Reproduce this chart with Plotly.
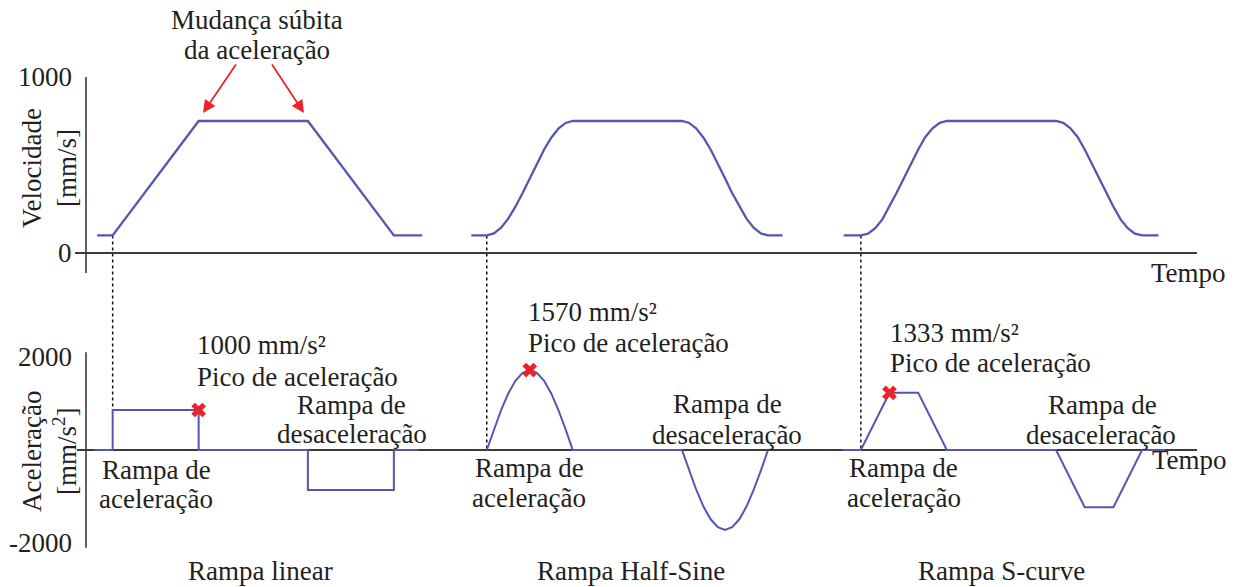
import plotly.graph_objects as go

W, H = 1236, 587

# ---------------- data (time in s, ramp duration = 1 s) ----------------
# Rampa linear
lin_v_t = [0.13, 0.31, 1.31, 2.58, 3.58, 3.91]
lin_v = [100, 100, 750, 750, 100, 100]
lin_a_t = [0.10, 0.31, 0.31, 1.31, 1.31, 2.58, 2.58, 3.58, 3.58, 3.86]
lin_a = [0, 0, 860, 860, 0, 0, -860, -860, 0, 0]

# Rampa Half-Sine
hs_v_t = [4.48,
          4.66, 4.743, 4.827, 4.91, 4.993, 5.077, 5.16, 5.243, 5.327, 5.41, 5.493, 5.577, 5.66,
          6.93, 7.013, 7.097, 7.18, 7.263, 7.347, 7.43, 7.513, 7.597, 7.68, 7.763, 7.847, 7.93,
          8.10]
hs_v = [100,
        100, 111, 144, 195, 263, 341, 425, 509, 588, 655, 707, 739, 750,
        750, 739, 707, 655, 588, 509, 425, 341, 263, 195, 144, 111, 100,
        100]
hs_a_t = [4.66, 4.743, 4.827, 4.91, 4.993, 5.077, 5.16, 5.243, 5.327, 5.41, 5.493, 5.577, 5.66,
          6.93, 7.013, 7.097, 7.18, 7.263, 7.347, 7.43, 7.513, 7.597, 7.68, 7.763, 7.847, 7.93]
hs_a = [0, 445, 860, 1216, 1490, 1661, 1720, 1661, 1490, 1216, 860, 445, 0,
        0, -445, -860, -1216, -1490, -1661, -1720, -1661, -1490, -1216, -860, -445, 0]

# Rampa S-curve
sc_v_t = [8.81,
          9.01, 9.093, 9.177, 9.26, 9.343, 9.427, 9.51, 9.593, 9.677, 9.76, 9.843, 9.927, 10.01,
          11.28, 11.363, 11.447, 11.53, 11.613, 11.697, 11.78, 11.863, 11.947, 12.03, 12.113, 12.197, 12.28,
          12.47]
sc_v = [100,
        100, 110, 141, 191, 263, 344, 425, 506, 588, 659, 709, 740, 750,
        750, 740, 709, 659, 588, 506, 425, 344, 263, 191, 141, 110, 100,
        100]
sc_a_t = [8.79, 9.01, 9.343, 9.677, 10.01, 11.28, 11.613, 11.947, 12.28, 12.55]
sc_a = [0, 0, 1230, 1230, 0, 0, -1230, -1230, 0, 0]

# peak-acceleration markers
peak_t = [1.31, 5.16, 9.343]
peak_a = [860, 1720, 1230]

# dotted guides: ramp start, velocity baseline, acceleration end
guide_t = [0.31, 4.66, 9.01]
guide_v = [100, 100, 100]
guide_a = [860, 0, 0]

vel_ticks = [0, 1000]
acc_ticks = [2000, -2000]

# ---------------- axes geometry ----------------
XR = [-1.0, 13.3721]
YR = [-1897.7, 1437.5]      # velocity axis
Y2R = [-2946.2, 9677.4]     # acceleration axis


def ypaper(v):
    return (v - YR[0]) / (YR[1] - YR[0])


def y2paper(a):
    return (a - Y2R[0]) / (Y2R[1] - Y2R[0])


def P(px, py):
    return px / W, 1 - py / H


BLUE = "#5457b0"
RED = "#e8262a"
AX = "#3a3a3a"
TXT = "#231f20"
FONT = '"Liberation Serif", "Times New Roman", Times, serif'
FS = 27

fig = go.Figure()

for t, v in [(lin_v_t, lin_v), (hs_v_t, hs_v), (sc_v_t, sc_v)]:
    fig.add_trace(go.Scatter(x=t, y=v, mode="lines", yaxis="y",
                             line=dict(color=BLUE, width=2.3), hoverinfo="skip"))
for t, a in [(lin_a_t, lin_a), (hs_a_t, hs_a), (sc_a_t, sc_a)]:
    fig.add_trace(go.Scatter(x=t, y=a, mode="lines", yaxis="y2",
                             line=dict(color=BLUE, width=2), hoverinfo="skip"))
fig.add_trace(go.Scatter(x=peak_t, y=peak_a, mode="markers", yaxis="y2",
                         marker=dict(symbol="x", size=13, color=RED, line=dict(width=0)),
                         hoverinfo="skip"))

shapes = []
# axis lines
shapes.append(dict(type="line", xref="x", yref="y", x0=-0.128, x1=12.919, y0=0, y1=0,
                   line=dict(color=AX, width=2), layer="below"))
shapes.append(dict(type="line", xref="x", yref="y", x0=0, x1=0, y0=-114, y1=1000,
                   line=dict(color=AX, width=1.6), layer="below"))
shapes.append(dict(type="line", xref="x", yref="y2", x0=-0.105, x1=12.919, y0=0, y1=0,
                   line=dict(color=AX, width=2), layer="below"))
shapes.append(dict(type="line", xref="x", yref="y2", x0=0, x1=0, y0=-2100, y1=2100,
                   line=dict(color=AX, width=1.6), layer="below"))
# dotted guides
for t, v, a in zip(guide_t, guide_v, guide_a):
    shapes.append(dict(type="line", xref="x", yref="paper", x0=t, x1=t,
                       y0=ypaper(v), y1=y2paper(a),
                       line=dict(color="#111111", width=1.5, dash="dot"), layer="below"))

ann = []


def text(s, px, py, anchor="center", size=FS, angle=0):
    x, y = P(px, py)
    ann.append(dict(text=s, x=x, y=y, xref="paper", yref="paper", showarrow=False,
                    xanchor=anchor, yanchor="middle", textangle=angle,
                    borderpad=0, borderwidth=0,
                    font=dict(family=FONT, size=size, color=TXT)))


# tick labels
for v in vel_ticks:
    ann.append(dict(text=str(v), x=72 / W, y=v, xref="paper", yref="y", showarrow=False,
                    xanchor="right", yanchor="middle", borderpad=0, borderwidth=0,
                    font=dict(family=FONT, size=FS, color=TXT)))
for a in acc_ticks:
    ann.append(dict(text=str(a), x=72 / W, y=a, xref="paper", yref="y2", showarrow=False,
                    xanchor="right", yanchor="middle", borderpad=0, borderwidth=0,
                    font=dict(family=FONT, size=FS, color=TXT)))

# axis titles
text("Velocidade<br>[mm/s]", 49, 168, angle=-90)
text("Aceleração<br>[mm/s<sup>2</sup>]", 49, 452, angle=-90)
text("Tempo", 1188, 273)
text("Tempo", 1189, 460)

# top annotation
text("Mudança súbita", 257, 20)
text("da aceleração", 257, 50)

# linear
text("1000 mm/s²", 197, 345, anchor="left")
text("Pico de aceleração", 197, 377, anchor="left")
text("Rampa de", 351, 405)
text("desaceleração", 352, 434)
text("Rampa de", 156, 470)
text("aceleração", 156, 499)
text("Rampa linear", 260, 571)

# half-sine
text("1570 mm/s²", 528, 312, anchor="left")
text("Pico de aceleração", 528, 343, anchor="left")
text("Rampa de", 727, 404)
text("desaceleração", 727, 435)
text("Rampa de", 529, 468)
text("aceleração", 529, 498)
text("Rampa Half-Sine", 631, 571)

# s-curve
text("1333 mm/s²", 890, 333, anchor="left")
text("Pico de aceleração", 890, 363, anchor="left")
text("Rampa de", 1102, 405)
text("desaceleração", 1101, 435)
text("Rampa de", 903, 468)
text("aceleração", 904, 498)
text("Rampa S-curve", 1001, 571)

# red arrows
for (hx, hy), (tx, ty) in [((203, 113), (237, 63)), ((304, 113), (271, 63))]:
    x, y = P(hx, hy)
    ann.append(dict(text="", x=x, y=y, xref="paper", yref="paper", showarrow=True,
                    ax=tx - hx, ay=ty - hy, arrowcolor=RED, arrowhead=2,
                    arrowsize=1.4, arrowwidth=1.8, standoff=0))

fig.update_layout(
    width=W, height=H,
    margin=dict(l=0, r=0, t=0, b=0),
    paper_bgcolor="white", plot_bgcolor="white",
    showlegend=False,
    xaxis=dict(range=XR, domain=[0, 1], visible=False, fixedrange=True),
    yaxis=dict(range=YR, domain=[0, 1], visible=False, fixedrange=True),
    yaxis2=dict(range=Y2R, overlaying="y", visible=False, fixedrange=True),
    shapes=shapes,
    annotations=ann,
)

fig.write_html("out.html")
